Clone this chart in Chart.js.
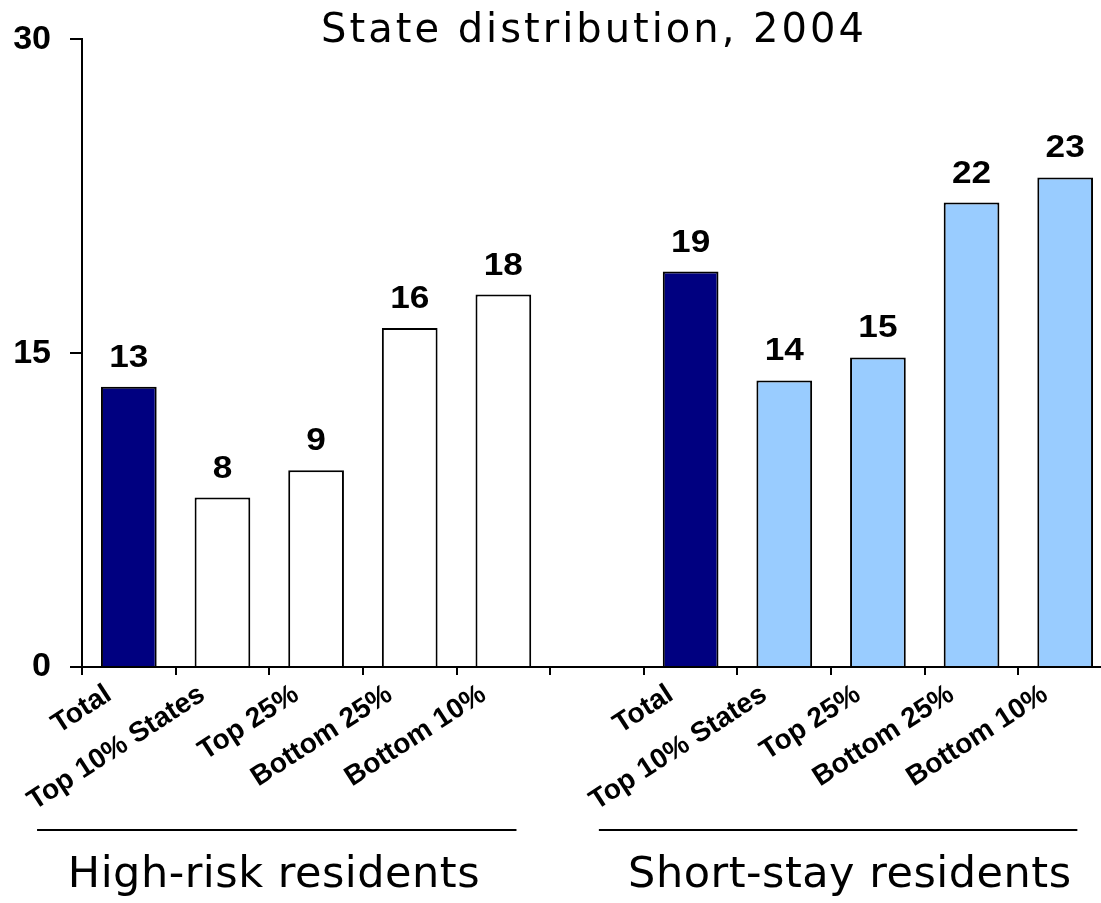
<!DOCTYPE html>
<html>
<head>
<meta charset="utf-8">
<script src="https://cdn.jsdelivr.net/npm/chart.js@4"></script>
<style>
  html, body { margin: 0; padding: 0; background: #fff; overflow: hidden; }
  #chartCanvas { display: block; }
</style>
</head>
<body>
<canvas id="chartCanvas" width="1112" height="903"></canvas>
<script>
const chartTitle = "State distribution, 2004";
const categories = ["Total", "Top 10% States", "Top 25%", "Bottom 25%", "Bottom 10%", "",
                    "Total", "Top 10% States", "Top 25%", "Bottom 25%", "Bottom 10%"];
const rateValues = [13.4, 8.1, 9.4, 16.2, 17.8, null, 18.9, 13.7, 14.8, 22.2, 23.4];
const barColors = ["#000080", "#ffffff", "#ffffff", "#ffffff", "#ffffff", "#ffffff",
                   "#000080", "#99ccff", "#99ccff", "#99ccff", "#99ccff"];
const yTicks = [0, 15, 30];
const groupNames = ["High-risk residents", "Short-stay residents"];
// span and text centre of each group, in category index units
const groupSpans = [[-0.98, 4.14], [5.02, 10.13]];
const groupTextCenters = [1.55, 7.70];

const labelFont = "'Liberation Sans', Arial, sans-serif";
const textFont = "'DejaVu Sans', sans-serif";

const valueLabels = {
    id: "valueLabels",
    afterDatasetsDraw(chart) {
        const ctx = chart.ctx;
        const meta = chart.getDatasetMeta(0);
        ctx.save();
        ctx.font = "bold 32px " + labelFont;
        ctx.fillStyle = "#000";
        ctx.textAlign = "center";
        ctx.textBaseline = "alphabetic";
        meta.data.forEach(function (bar, i) {
            const v = rateValues[i];
            if (v === null) return;
            // the source labels are a bit wider than plain Arial
            ctx.save();
            ctx.translate(bar.x, bar.y - 20);
            ctx.scale(1.1, 1);
            ctx.fillText(String(Math.round(v)), 0, 0);
            ctx.restore();
        });
        ctx.restore();
    }
};

const titleAndGroups = {
    id: "titleAndGroups",
    afterDraw(chart) {
        const ctx = chart.ctx;
        const x = chart.scales.x;
        ctx.save();
        ctx.fillStyle = "#000";
        ctx.textAlign = "center";
        ctx.textBaseline = "alphabetic";
        ctx.letterSpacing = "3px";
        ctx.font = "40px " + textFont;
        ctx.fillText(chartTitle, 594, 42);

        ctx.strokeStyle = "#000";
        ctx.lineWidth = 2;
        ctx.font = "43px " + textFont;
        ctx.letterSpacing = "0.5px";
        groupSpans.forEach(function (span, i) {
            const x1 = x.getPixelForValue(span[0]);
            const x2 = x.getPixelForValue(span[1]);
            ctx.beginPath();
            ctx.moveTo(x1, 830);
            ctx.lineTo(x2, 830);
            ctx.stroke();
            ctx.fillText(groupNames[i], x.getPixelForValue(groupTextCenters[i]), 887);
        });
        ctx.restore();
    }
};

const ctx = document.getElementById("chartCanvas").getContext("2d");

const config = {
    type: "bar",
    data: {
        labels: categories,
        datasets: [
            {
                data: rateValues,
                backgroundColor: barColors,
                borderColor: "#000",
                borderWidth: 2,
                categoryPercentage: 1.0,
                barPercentage: 0.595
            }
        ]
    },
    options: {
        responsive: false,
        animation: false,
        layout: { padding: { top: 35, left: 0, right: 0, bottom: 0 } },
        plugins: {
            legend: { display: false },
            title: { display: false },
            tooltip: { enabled: false }
        },
        scales: {
            x: {
                afterFit: function (scale) { scale.height = 236; },
                border: { color: "#000", width: 2 },
                grid: { offset: true, drawOnChartArea: false, color: "#000", lineWidth: 2, tickLength: 8 },
                ticks: {
                    autoSkip: false,
                    minRotation: 33,
                    maxRotation: 33,
                    labelOffset: -20,
                    padding: 3,
                    color: "#000",
                    font: { family: labelFont, size: 28, weight: "bold" }
                }
            },
            y: {
                min: 0,
                max: 30,
                afterFit: function (scale) { scale.width = 82; },
                afterBuildTicks: function (scale) {
                    scale.ticks = yTicks.map(function (v) { return { value: v }; });
                },
                border: { color: "#000", width: 2 },
                grid: { drawOnChartArea: false, color: "#000", lineWidth: 2, tickLength: 12 },
                ticks: {
                    padding: 19,
                    color: "#000",
                    font: { family: labelFont, size: 34, weight: "bold" }
                }
            }
        }
    },
    plugins: [valueLabels, titleAndGroups]
};

const chart = new Chart(ctx, config);
</script>
</body>
</html>
